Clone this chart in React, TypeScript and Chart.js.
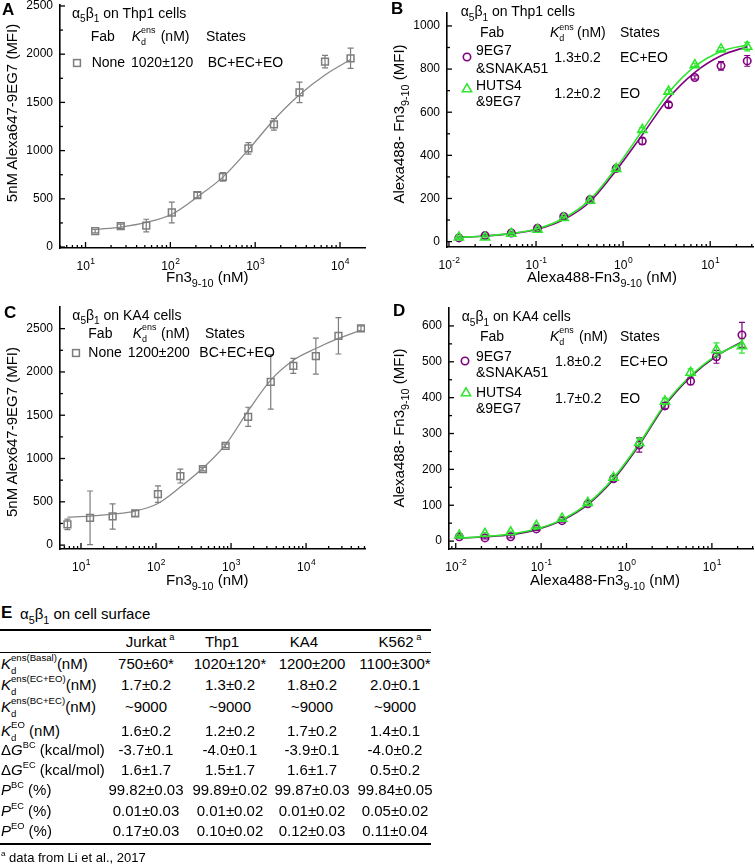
import React, { useEffect, useRef } from 'react';
import { Chart, registerables } from 'chart.js';
Chart.register(...registerables);

const FONT = '"Liberation Sans", Arial, Helvetica, sans-serif';
const GRAY = '#7d7d7d';
const CURVE_GRAY = '#888888';
const PURPLE = '#800080';
const GREEN = '#2ee62e';

// ===== Panel A : α5β1 on Thp1 cells (Alexa647-9EG7 vs Fn3 9-10) =====
const concA = [13, 26, 52, 104, 208, 416, 832, 1664, 3328, 6656, 13312];
const mfiA = [164, 216, 223, 358, 538, 728, 1023, 1272, 1604, 1922, 1957];
const errA = [18, 22, 65, 108, 28, 45, 60, 60, 107, 65, 105];
const fitConcA = [13.5, 26, 52, 104, 208, 416, 832, 1664, 3328, 6656, 13312];
const fitMfiA = [183, 207, 255, 340, 520, 725, 1010, 1320, 1580, 1785, 1945];

// ===== Panel B : α5β1 on Thp1 cells (Alexa488-Fn3 9-10) =====
const concB = [0.013, 0.026, 0.052, 0.104, 0.208, 0.416, 0.832, 1.66, 3.33, 6.66, 13.3, 26.6];
const snakaB = [17, 28, 40, 62, 117, 194, 339, 466, 634, 761, 815, 838];
const snakaErrB = [5, 5, 5, 5, 5, 6, 8, 15, 12, 8, 20, 25];
const hutsB = [20, 20, 37, 56, 110, 190, 338, 519, 696, 819, 892, 904];
const hutsErrB = [5, 5, 5, 5, 5, 6, 8, 10, 10, 8, 8, 20];
const fitSnakaB = [20, 26, 37, 57, 102, 185, 330, 495, 665, 785, 862, 904];
const fitHutsB = [20, 26, 38, 60, 108, 195, 342, 515, 690, 812, 882, 912];

// ===== Panel C : α5β1 on KA4 cells (Alex647-9EG7 vs Fn3 9-10) =====
const concC = [6.6, 13.2, 26.4, 52.8, 106, 211, 422, 845, 1690, 3380, 6760, 13500, 27000, 54000];
const mfiC = [239, 315, 331, 366, 589, 797, 877, 1147, 1482, 1886, 2070, 2182, 2417, 2502];
const errC = [60, 310, 146, 35, 95, 80, 20, 20, 110, 315, 87, 208, 210, 30];
const fitMfiC = [323, 335, 357, 392, 480, 670, 890, 1160, 1550, 1905, 2136, 2271, 2387, 2482];

// ===== Panel D : α5β1 on KA4 cells (Alexa488-Fn3 9-10) =====
const concD = [0.011, 0.022, 0.044, 0.088, 0.176, 0.352, 0.704, 1.41, 2.82, 5.63, 11.3, 22.5];
const snakaD = [12, 9, 12, 34, 57, 104, 174, 268, 377, 446, 514, 575];
const snakaErrD = [3, 3, 3, 4, 4, 5, 6, 20, 8, 10, 18, 35];
const hutsD = [16, 21, 25, 43, 63, 107, 177, 274, 390, 470, 533, 544];
const hutsErrD = [3, 3, 3, 4, 4, 5, 6, 12, 8, 10, 20, 20];
const fitSnakaD = [8, 12, 18, 32, 58, 102, 172, 268, 378, 458, 516, 556];
const fitHutsD = [9, 13, 20, 34, 60, 105, 176, 272, 382, 461, 518, 553];

// ===== Table E =====
const tableCols = ['Jurkat', 'Thp1', 'KA4', 'K562'];
const tableColNote = ['a', '', '', 'a'];
const kdBasal = ['750±60*', '1020±120*', '1200±200', '1100±300*'];
const kdECEO = ['1.7±0.2', '1.3±0.2', '1.8±0.2', '2.0±0.1'];
const kdBCEC = ['~9000', '~9000', '~9000', '~9000'];
const kdEO = ['1.6±0.2', '1.2±0.2', '1.7±0.2', '1.4±0.1'];
const dGBC = ['-3.7±0.1', '-4.0±0.1', '-3.9±0.1', '-4.0±0.2'];
const dGEC = ['1.6±1.7', '1.5±1.7', '1.6±1.7', '0.5±0.2'];
const pBC = ['99.82±0.03', '99.89±0.02', '99.87±0.03', '99.84±0.05'];
const pEC = ['0.01±0.03', '0.01±0.02', '0.01±0.02', '0.05±0.02'];
const pEO = ['0.17±0.03', '0.10±0.02', '0.12±0.03', '0.11±0.04'];

const pts = (xs: number[], ys: number[]) => xs.map((x, i) => ({ x, y: ys[i] }));

interface ErrSet { xs: number[]; ys: number[]; errs: number[]; color: string }
interface Spec {
  rect: number[];
  area: number[];
  xMin: number; xMax: number;
  yMin: number; yMax: number; yMinor: number; yMajor: number; yLast: number;
  datasets: any[];
  errors: ErrSet[];
}

const squareSet = (xs: number[], ys: number[]) => ({
  data: pts(xs, ys), pointStyle: 'rect', pointRadius: 4.8, borderColor: GRAY,
  backgroundColor: 'rgba(255,255,255,0)', pointBorderWidth: 1.5, showLine: false, order: 0,
});
const circleSet = (xs: number[], ys: number[], order: number) => ({
  data: pts(xs, ys), pointStyle: 'circle', pointRadius: 3.7, borderColor: PURPLE,
  backgroundColor: 'rgba(255,255,255,0)', pointBorderWidth: 1.6, showLine: false, order,
});
const triSet = (xs: number[], ys: number[], order: number) => ({
  data: pts(xs, ys), pointStyle: 'triangle', pointRadius: 5.3, borderColor: GREEN,
  backgroundColor: 'rgba(255,255,255,0)', pointBorderWidth: 1.6, showLine: false, order,
});
const curveSet = (xs: number[], ys: number[], color: string, order: number, w = 1.3) => ({
  data: pts(xs, ys), showLine: true, pointRadius: 0, borderColor: color, borderWidth: w,
  cubicInterpolationMode: 'monotone', fill: false, order,
});

const specA: Spec = {
  rect: [0, 0, 370, 300], area: [60, 5, 365, 248],
  xMin: 5, xMax: 19700, yMin: -10, yMax: 2510, yMinor: 250, yMajor: 500, yLast: 2500,
  datasets: [squareSet(concA, mfiA), curveSet(fitConcA, fitMfiA, CURVE_GRAY, 2)],
  errors: [{ xs: concA, ys: mfiA, errs: errA, color: GRAY }],
};
const specB: Spec = {
  rect: [375, 0, 380, 300], area: [447, 13, 753, 247],
  xMin: 0.0095, xMax: 31, yMin: -25, yMax: 1060, yMinor: 100, yMajor: 200, yLast: 1000,
  datasets: [
    triSet(concB, hutsB, 0), circleSet(concB, snakaB, 1),
    curveSet(concB, fitHutsB, GREEN, 2, 1.6), curveSet(concB, fitSnakaB, PURPLE, 3, 1.6),
  ],
  errors: [
    { xs: concB, ys: snakaB, errs: snakaErrB, color: PURPLE },
    { xs: concB, ys: hutsB, errs: hutsErrB, color: GREEN },
  ],
};
const specC: Spec = {
  rect: [0, 300, 370, 300], area: [60, 307, 365, 549],
  xMin: 5.25, xMax: 61000, yMin: -45, yMax: 2750, yMinor: 250, yMajor: 500, yLast: 2500,
  datasets: [squareSet(concC, mfiC), curveSet(concC, fitMfiC, CURVE_GRAY, 2)],
  errors: [{ xs: concC, ys: mfiC, errs: errC, color: GRAY }],
};
const specD: Spec = {
  rect: [375, 300, 380, 300], area: [449, 308, 753, 549],
  xMin: 0.00834, xMax: 30.3, yMin: -22, yMax: 650, yMinor: 50, yMajor: 100, yLast: 600,
  datasets: [
    triSet(concD, hutsD, 0), circleSet(concD, snakaD, 1),
    curveSet(concD, fitHutsD, GREEN, 2, 1.6), curveSet(concD, fitSnakaD, '#5a1a5a', 3, 1.6),
  ],
  errors: [
    { xs: concD, ys: snakaD, errs: snakaErrD, color: PURPLE },
    { xs: concD, ys: hutsD, errs: hutsErrD, color: GREEN },
  ],
};

function PanelChart({ spec }: { spec: Spec }) {
  const ref = useRef<HTMLCanvasElement>(null);
  const [cl, ct, cw, ch] = spec.rect;
  useEffect(() => {
    const [al, at, ar, ab] = spec.area;
    const YW = 45, XH = 40;
    const xTicks: number[] = [];
    for (let e = Math.floor(Math.log10(spec.xMin)); e <= Math.ceil(Math.log10(spec.xMax)); e++) {
      for (let m = 1; m <= 9; m++) {
        const v = m * Math.pow(10, e);
        if (v >= spec.xMin && v <= spec.xMax) xTicks.push(v);
      }
    }
    const yTicks: number[] = [];
    for (let v = 0; v <= spec.yLast + 1e-9; v += spec.yMinor) yTicks.push(v);

    const errPlugin = {
      id: 'errbars',
      beforeDatasetsDraw(chart: any) {
        const { ctx, scales } = chart;
        const x = scales.x, y = scales.y;
        ctx.save();
        ctx.lineWidth = 1.2;
        for (const s of spec.errors) {
          ctx.strokeStyle = s.color;
          s.xs.forEach((xv, i) => {
            const px = x.getPixelForValue(xv);
            const top = y.getPixelForValue(s.ys[i] + s.errs[i]);
            const bot = y.getPixelForValue(s.ys[i] - s.errs[i]);
            ctx.beginPath();
            ctx.moveTo(px, top); ctx.lineTo(px, bot);
            ctx.moveTo(px - 3, top); ctx.lineTo(px + 3, top);
            ctx.moveTo(px - 3, bot); ctx.lineTo(px + 3, bot);
            ctx.stroke();
          });
        }
        ctx.restore();
      },
    };
    const axesPlugin = {
      id: 'inwardAxes',
      afterDraw(chart: any) {
        const { ctx, chartArea: a, scales } = chart;
        const x = scales.x, y = scales.y;
        ctx.save();
        ctx.strokeStyle = '#000';
        ctx.lineWidth = 1.3;
        y.ticks.forEach((t: any) => {
          const py = y.getPixelForValue(t.value);
          const major = Math.abs(t.value % spec.yMajor) < 1e-6;
          ctx.beginPath();
          ctx.moveTo(a.left, py);
          ctx.lineTo(a.left + (major ? 5 : 3), py);
          ctx.stroke();
        });
        x.ticks.forEach((t: any) => {
          const v = t.value;
          const px = x.getPixelForValue(v);
          const e = Math.floor(Math.log10(v) + 1e-9);
          const m = v / Math.pow(10, e);
          const major = Math.abs(m - 1) < 1e-6;
          ctx.beginPath();
          ctx.moveTo(px, a.bottom);
          ctx.lineTo(px, a.bottom - (major ? 6 : 3));
          ctx.stroke();
          if (major) {
            ctx.fillStyle = '#000';
            ctx.textBaseline = 'alphabetic';
            ctx.textAlign = 'left';
            ctx.font = `12px ${FONT}`;
            const w1 = ctx.measureText('10').width;
            ctx.font = `8.5px ${FONT}`;
            const ex = String(e);
            const w2 = ctx.measureText(ex).width;
            const x0 = px - (w1 + w2) / 2;
            const by = a.bottom + 22;
            ctx.font = `12px ${FONT}`;
            ctx.fillText('10', x0, by);
            ctx.font = `8.5px ${FONT}`;
            ctx.fillText(ex, x0 + w1 + 0.5, by - 6.5);
          }
        });
        ctx.restore();
      },
    };

    const chart = new Chart(ref.current as HTMLCanvasElement, {
      type: 'scatter',
      data: { datasets: spec.datasets },
      options: {
        responsive: false,
        animation: false,
        events: [],
        layout: {
          autoPadding: false,
          padding: { left: al - cl - YW, top: at - ct, right: cl + cw - ar, bottom: ct + ch - ab - XH },
        },
        plugins: { legend: { display: false }, tooltip: { enabled: false } },
        scales: {
          x: {
            type: 'logarithmic', min: spec.xMin, max: spec.xMax,
            grid: { display: false, drawTicks: false },
            border: { display: true, color: '#000', width: 1.6 },
            ticks: { display: false, autoSkip: false },
            afterBuildTicks: (s: any) => { s.ticks = xTicks.map((value) => ({ value })); },
            afterFit: (s: any) => { s.height = XH; s.paddingLeft = 0; s.paddingRight = 0; },
          },
          y: {
            type: 'linear', min: spec.yMin, max: spec.yMax,
            grid: { display: false, drawTicks: false },
            border: { display: true, color: '#000', width: 1.6 },
            ticks: {
              autoSkip: false, color: '#000', padding: 7, font: { family: FONT, size: 12 },
              callback: (v: any) => (Math.abs(Number(v) % spec.yMajor) < 1e-6 ? String(v) : ''),
            },
            afterBuildTicks: (s: any) => { s.ticks = yTicks.map((value) => ({ value })); },
            afterFit: (s: any) => { s.width = YW; s.paddingTop = 0; s.paddingBottom = 0; },
          },
        },
      } as any,
      plugins: [errPlugin, axesPlugin],
    } as any);
    return () => chart.destroy();
  }, [spec]);
  return (
    <canvas ref={ref} width={cw} height={ch}
      style={{ position: 'absolute', left: cl, top: ct, width: cw, height: ch }} />
  );
}

// ---------- text helpers ----------
const Sub = ({ children }: any) => (
  <span style={{ fontSize: '0.72em', position: 'relative', top: '0.42em' }}>{children}</span>
);
const Sup = ({ children }: any) => (
  <span style={{ fontSize: '0.62em', position: 'relative', top: '-0.75em' }}>{children}</span>
);
const Kd = ({ sup }: any) => (
  <span>
    <i>K</i>
    <span style={{ display: 'inline-block', position: 'relative', fontSize: '0.64em' }}>
      <span style={{ position: 'relative', top: '-0.85em' }}>{sup}</span>
      <span style={{ position: 'absolute', left: 0, top: '0.45em' }}>d</span>
    </span>
  </span>
);
const AB = () => (<span>α<Sub>5</Sub>β<Sub>1</Sub></span>);

const T = ({ x, y, size = 14, children, bold, center }: any) => (
  <div style={{
    position: 'absolute', left: x, top: y - size * 0.52, fontSize: size, lineHeight: `${size}px`,
    whiteSpace: 'nowrap', fontWeight: bold ? 'bold' : 'normal',
    transform: center ? 'translateX(-50%)' : undefined,
  }}>{children}</div>
);
const VT = ({ cx, cy, size = 15, children }: any) => (
  <div style={{
    position: 'absolute', left: cx, top: cy, fontSize: size, lineHeight: `${size}px`, whiteSpace: 'nowrap',
    transform: 'translate(-50%, -50%) rotate(-90deg)',
  }}>{children}</div>
);
const SquareMk = ({ x, y }: any) => (
  <svg style={{ position: 'absolute', left: x - 6, top: y - 6 }} width={12} height={12}>
    <rect x={2.6} y={2.6} width={6.8} height={6.8} fill="none" stroke={GRAY} strokeWidth={1.5} />
  </svg>
);
const CircleMk = ({ x, y }: any) => (
  <svg style={{ position: 'absolute', left: x - 6, top: y - 6 }} width={12} height={12}>
    <circle cx={6} cy={6} r={3.7} fill="none" stroke={PURPLE} strokeWidth={1.6} />
  </svg>
);
const TriMk = ({ x, y }: any) => (
  <svg style={{ position: 'absolute', left: x - 7, top: y - 7 }} width={14} height={14}>
    <polygon points="7,1.8 11.6,9.7 2.4,9.7" fill="none" stroke={GREEN} strokeWidth={1.6} />
  </svg>
);

const TABLE_FONT = 15;
const colCenters = [146, 230, 312, 395];
const headCenters = [150, 222, 304, 400];
const rowYs = [664, 685, 707, 731, 750, 770, 790, 811, 831];
const rowValues = [kdBasal, kdECEO, kdBCEC, kdEO, dGBC, dGEC, pBC, pEC, pEO];
const rowLabels = [
  <span><Kd sup="ens(Basal)" />(nM)</span>,
  <span><Kd sup="ens(EC+EO)" />(nM)</span>,
  <span><Kd sup="ens(BC+EC)" />(nM)</span>,
  <span><Kd sup="EO" /> (nM)</span>,
  <span>Δ<i>G</i><Sup>BC</Sup> (kcal/mol)</span>,
  <span>Δ<i>G</i><Sup>EC</Sup> (kcal/mol)</span>,
  <span><i>P</i><Sup>BC</Sup> (%)</span>,
  <span><i>P</i><Sup>EC</Sup> (%)</span>,
  <span><i>P</i><Sup>EO</Sup> (%)</span>,
];

export default function App() {
  return (
    <div style={{
      position: 'absolute', left: 0, top: 0, width: 755, height: 865, background: '#fff',
      overflow: 'hidden', fontFamily: FONT, color: '#000',
    }}>
      <PanelChart spec={specA} />
      <PanelChart spec={specB} />
      <PanelChart spec={specC} />
      <PanelChart spec={specD} />

      {/* panel letters */}
      <T x={2} y={10} size={17} bold>A</T>
      <T x={391} y={9} size={17} bold>B</T>
      <T x={4} y={313} size={17} bold>C</T>
      <T x={393} y={311} size={17} bold>D</T>
      <T x={1} y={613} size={17} bold>E</T>

      {/* axis titles */}
      <VT cx={10.5} cy={113}>5nM Alexa647-9EG7 (MFI)</VT>
      <T x={166} y={277} size={15}>Fn3<Sub>9-10</Sub> (nM)</T>
      <VT cx={399} cy={124}>Alexa488- Fn3<Sub>9-10</Sub> (MFI)</VT>
      <T x={527} y={277} size={15}>Alexa488-Fn3<Sub>9-10</Sub> (nM)</T>
      <VT cx={10.5} cy={432}>5nM Alex647-9EG7 (MFI)</VT>
      <T x={166} y={580} size={15}>Fn3<Sub>9-10</Sub> (nM)</T>
      <VT cx={399} cy={428}>Alexa488- Fn3<Sub>9-10</Sub> (MFI)</VT>
      <T x={530} y={580} size={15}>Alexa488-Fn3<Sub>9-10</Sub> (nM)</T>

      {/* legend A */}
      <T x={72} y={13.5}><AB /> on Thp1 cells</T>
      <T x={90.7} y={36}>Fab</T>
      <T x={131.7} y={36}><Kd sup="ens" /></T>
      <T x={160.7} y={36}>(nM)</T>
      <T x={206} y={36}>States</T>
      <SquareMk x={77} y={62.7} />
      <T x={91.7} y={62.7}>None</T>
      <T x={131} y={62.7}>1020±120</T>
      <T x={207.7} y={62.7}>BC+EC+EO</T>

      {/* legend B */}
      <T x={460.7} y={11.7}><AB /> on Thp1 cells</T>
      <T x={480} y={32.7}>Fab</T>
      <T x={550} y={32.7}><Kd sup="ens" /></T>
      <T x={577} y={32.7}>(nM)</T>
      <T x={620} y={32.7}>States</T>
      <CircleMk x={466.7} y={57.3} />
      <T x={476} y={50}>9EG7</T>
      <T x={476} y={68.3}>&amp;SNAKA51</T>
      <T x={554.3} y={57.3}>1.3±0.2</T>
      <T x={620} y={57.3}>EC+EO</T>
      <TriMk x={467.3} y={89.3} />
      <T x={476} y={85}>HUTS4</T>
      <T x={476} y={101.7}>&amp;9EG7</T>
      <T x={554.3} y={93.3}>1.2±0.2</T>
      <T x={620} y={93.3}>EO</T>

      {/* legend C */}
      <T x={72.3} y={315}><AB /> on KA4 cells</T>
      <T x={88.3} y={333.3}>Fab</T>
      <T x={132.7} y={333.3}><Kd sup="ens" /></T>
      <T x={161} y={333.3}>(nM)</T>
      <T x={205} y={333.3}>States</T>
      <SquareMk x={76} y={352.7} />
      <T x={88.3} y={352.7}>None</T>
      <T x={127.7} y={352.7}>1200±200</T>
      <T x={199.3} y={352.7}>BC+EC+EO</T>

      {/* legend D */}
      <T x={461.7} y={316.7}><AB /> on KA4 cells</T>
      <T x={480} y={336}>Fab</T>
      <T x={550} y={336}><Kd sup="ens" /></T>
      <T x={579} y={336}>(nM)</T>
      <T x={620} y={336}>States</T>
      <CircleMk x={465} y={361} />
      <T x={476} y={356}>9EG7</T>
      <T x={476} y={372.7}>&amp;SNAKA51</T>
      <T x={555} y={361.7}>1.8±0.2</T>
      <T x={620} y={361.7}>EC+EO</T>
      <TriMk x={466} y={393.3} />
      <T x={476} y={392.3}>HUTS4</T>
      <T x={476} y={408.3}>&amp;9EG7</T>
      <T x={555} y={398.3}>1.7±0.2</T>
      <T x={620} y={398.3}>EO</T>

      {/* table E */}
      <T x={20} y={614} size={15}><AB /> on cell surface</T>
      <div style={{ position: 'absolute', left: 0, top: 629, width: 431, height: 2, background: '#000' }} />
      <div style={{ position: 'absolute', left: 0, top: 652, width: 431, height: 1, background: '#000' }} />
      <div style={{ position: 'absolute', left: 0, top: 843, width: 431, height: 2, background: '#000' }} />
      {tableCols.map((c, i) => (
        <T key={c} x={headCenters[i]} y={642} size={TABLE_FONT} center>
          {c}{tableColNote[i] ? <Sup>&nbsp;{tableColNote[i]}</Sup> : null}
        </T>
      ))}
      {rowLabels.map((lab, r) => (
        <T key={'l' + r} x={1} y={rowYs[r]} size={TABLE_FONT}>{lab}</T>
      ))}
      {rowValues.map((vals, r) => vals.map((v, i) => (
        <T key={'v' + r + '_' + i} x={colCenters[i]} y={rowYs[r]} size={TABLE_FONT} center>{v}</T>
      )))}
      <T x={1} y={858} size={13}><Sup>a</Sup> data from Li et al., 2017</T>
    </div>
  );
}
